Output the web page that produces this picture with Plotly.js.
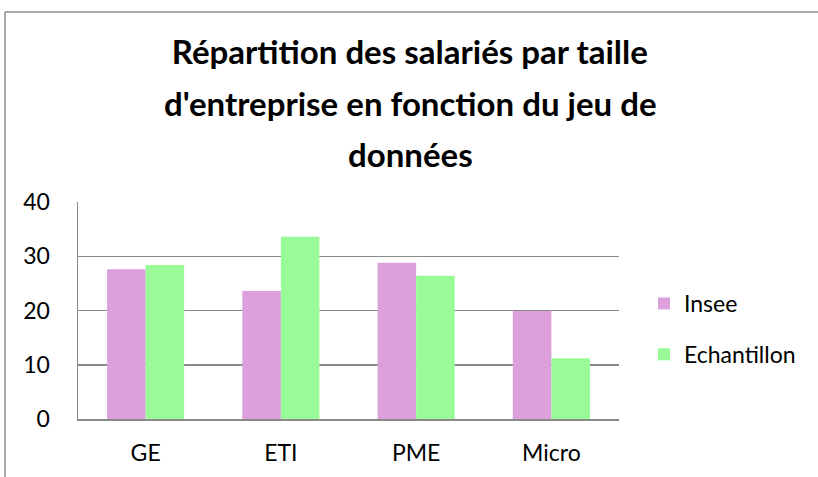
<!DOCTYPE html>
<html>
<head>
<meta charset="utf-8">
<script src="https://cdn.plot.ly/plotly-3.0.1.min.js"></script>
<style>html,body{margin:0;padding:0;background:#fff;}#chart{width:818px;height:477px;}</style>
</head>
<body>
<div id="chart"></div>
<script>
const categories = ["GE", "ETI", "PME", "Micro"];
const inseeValues = [27.6, 23.6, 28.8, 19.9];
const echantillonValues = [28.4, 33.6, 26.4, 11.2];
const seriesNames = ["Insee", "Echantillon"];
const titleLines = ["Répartition des salariés par taille", "d'entreprise en fonction du jeu de", "données"];
const yTicks = [0, 10, 20, 30, 40];

const FONT = "Lato, 'Open Sans', sans-serif";
const grid = "#8a8a8a";
const TSIZE = 33;
const FSIZE = 23;

const traces = [
  {type: "bar", name: seriesNames[0], x: categories, y: inseeValues,
   marker: {color: "#DDA0DD"}, legendgroup: "a", hoverinfo: "x+y+name"},
  {type: "bar", name: seriesNames[1], x: categories, y: echantillonValues,
   marker: {color: "#98FB98"}, legendgroup: "b", hoverinfo: "x+y+name"}
];

const layout = {
  width: 818, height: 477,
  margin: {l: 78, r: 199, t: 202, b: 58, pad: 0},
  paper_bgcolor: "#fff", plot_bgcolor: "#fff",
  font: {family: FONT, color: "#000", size: FSIZE},
  title: {text: titleLines[0], font: {family: FONT, size: TSIZE, color: "#000", weight: "bold"},
          x: 0.501, xref: "container", xanchor: "center", y: 1 - 52/477, yref: "container", yanchor: "middle"},
  annotations: [
    {text: titleLines[1], xref: "paper", yref: "paper", x: (410-78)/541, y: 1 + (202-103)/217,
     xanchor: "center", yanchor: "middle", showarrow: false, font: {family: FONT, size: TSIZE, color: "#000", weight: "bold"}},
    {text: titleLines[2], xref: "paper", yref: "paper", x: (410-78)/541, y: 1 + (202-154)/217,
     xanchor: "center", yanchor: "middle", showarrow: false, font: {family: FONT, size: TSIZE, color: "#000", weight: "bold"}}
  ],
  barmode: "group",
  bargap: 0.43,
  bargroupgap: 0,
  xaxis: {type: "category", showgrid: false, showline: true, linecolor: grid, linewidth: 1.5,
          ticks: "", ticklabelstandoff: 13, tickfont: {family: FONT, size: FSIZE, color: "#000"}, fixedrange: true},
  yaxis: {range: [0, 40], tickvals: yTicks, ticktext: yTicks.map(String), showgrid: true, gridcolor: grid, gridwidth: 1.5,
          zeroline: false, showline: true, linecolor: grid, linewidth: 1.5, ticks: "",
          ticklabelstandoff: 22, tickfont: {family: FONT, size: FSIZE, color: "#000"}, fixedrange: true},
  legend: {x: (644-78)/541, xanchor: "left", y: (419-329)/217, yanchor: "middle",
           font: {family: FONT, size: FSIZE, color: "#000"}, traceorder: "grouped", tracegroupgap: 18,
           bgcolor: "rgba(0,0,0,0)", borderwidth: 0},
  shapes: [
    {type: "line", xref: "paper", yref: "paper", x0: (5-78)/541, x1: (5-78)/541, y0: (419-480)/217, y1: 1 + (202-12)/217,
     line: {color: "#8c8c8c", width: 1.5}},
    {type: "line", xref: "paper", yref: "paper", x0: (5-78)/541, x1: (830-78)/541, y0: 1 + (202-12)/217, y1: 1 + (202-12)/217,
     line: {color: "#8c8c8c", width: 1.5}}
  ],
  showlegend: true
};

Plotly.newPlot("chart", traces, layout, {displayModeBar: false, staticPlot: true});
</script>
</body>
</html>
